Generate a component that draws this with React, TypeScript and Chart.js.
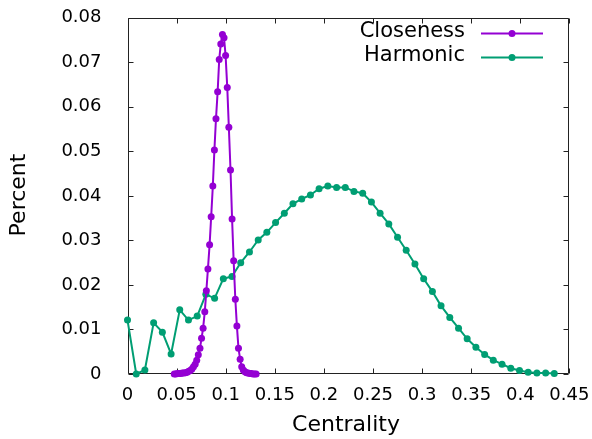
import React, { useEffect, useRef } from "react";
import { Chart, registerables } from "chart.js";

Chart.register(...registerables);

const closenessX = [
  0.0476, 0.0492, 0.0509, 0.0525, 0.0541, 0.0558, 0.0574, 0.059, 0.0607, 0.0623,
  0.064, 0.0656, 0.0672, 0.0689, 0.0705, 0.0721, 0.0738, 0.0754, 0.077, 0.0787,
  0.0803, 0.0819, 0.0836, 0.0852, 0.0869, 0.0885, 0.0901, 0.0918, 0.0934, 0.095,
  0.0967, 0.0983, 0.0999, 0.1016, 0.1032, 0.1049, 0.1065, 0.1081, 0.1098, 0.1114,
  0.113, 0.1147, 0.1163, 0.1179, 0.1196, 0.1212, 0.1228, 0.1245, 0.1261, 0.1278,
  0.1294, 0.131,
];
const closenessY = [
  0, 0, 0.0001, 0.0001, 0.0001, 0.0002, 0.0002, 0.0003, 0.0004, 0.0006,
  0.0008, 0.0011, 0.0016, 0.0022, 0.0031, 0.0043, 0.0058, 0.008, 0.0103, 0.014,
  0.0187, 0.0236, 0.029, 0.0353, 0.0422, 0.0503, 0.0573, 0.0634, 0.0706, 0.0741,
  0.0762, 0.0755, 0.0715, 0.0643, 0.0554, 0.0458, 0.0348, 0.0254, 0.0168, 0.0108,
  0.0058, 0.0033, 0.0016, 0.0009, 0.0005, 0.0003, 0.0002, 0.0001, 0.0001, 0,
  0, 0,
];
const harmonicX = [
  0, 0.0089, 0.0177, 0.0266, 0.0355, 0.0444, 0.0532, 0.0621, 0.071, 0.0798,
  0.0887, 0.0976, 0.1064, 0.1153, 0.1242, 0.1331, 0.1419, 0.1508, 0.1597, 0.1685,
  0.1774, 0.1863, 0.1951, 0.204, 0.2129, 0.2218, 0.2306, 0.2395, 0.2484, 0.2572,
  0.2661, 0.275, 0.2838, 0.2927, 0.3016, 0.3105, 0.3193, 0.3282, 0.3371, 0.3459,
  0.3548, 0.3637, 0.3725, 0.3814, 0.3903, 0.3992, 0.408, 0.4169, 0.4258, 0.4346,
];
const harmonicY = [
  0.0121, 0.0, 0.0009, 0.0115, 0.0094, 0.0045, 0.0144, 0.0121, 0.013, 0.0179,
  0.017, 0.0214, 0.0219, 0.025, 0.0274, 0.0301, 0.0318, 0.034, 0.0361, 0.0382,
  0.0393, 0.0402, 0.0416, 0.0422, 0.0419, 0.0419, 0.041, 0.0406, 0.0386, 0.0361,
  0.0337, 0.0307, 0.0278, 0.0247, 0.0214, 0.0185, 0.0153, 0.0127, 0.0103, 0.0079,
  0.006, 0.0044, 0.0031, 0.0022, 0.0013, 0.0008, 0.0004, 0.0002, 0.0002, 0.0001,
];
const xTickLabels = ["0", "0.05", "0.1", "0.15", "0.2", "0.25", "0.3", "0.35", "0.4", "0.45"];
const yTickLabels = ["0", "0.01", "0.02", "0.03", "0.04", "0.05", "0.06", "0.07", "0.08"];
const seriesNames = ["Closeness", "Harmonic"];
const seriesColors = ["#9400d3", "#009e73"];
const xTitle = "Centrality";
const yTitle = "Percent";

const FONT = "'DejaVu Sans', sans-serif";
const MARKER_R = 3.5;

const framePlugin = {
  id: "gnuplotFrame",
  beforeDatasetsDraw(chart: any) {
    const { ctx, chartArea } = chart;
    const { left, right, top, bottom } = chartArea;
    const xs = chart.scales.x;
    const ys = chart.scales.y;
    ctx.save();
    ctx.strokeStyle = "#222";
    ctx.lineWidth = 1;
    ctx.beginPath();
    const L = Math.round(left) + 0.5;
    const R = Math.round(right) - 0.5;
    const T = Math.round(top) + 0.5;
    const B = Math.round(bottom) - 0.5;
    ctx.rect(L, T, R - L, B - T);
    const tl = 5;
    xs.ticks.forEach((t: any) => {
      const px = Math.round(xs.getPixelForValue(t.value)) + 0.5;
      ctx.moveTo(px, B);
      ctx.lineTo(px, B - tl);
      ctx.moveTo(px, T);
      ctx.lineTo(px, T + tl);
    });
    ys.ticks.forEach((t: any) => {
      const py = Math.round(ys.getPixelForValue(t.value)) + 0.5;
      ctx.moveTo(L, py);
      ctx.lineTo(L + tl, py);
      ctx.moveTo(R, py);
      ctx.lineTo(R - tl, py);
    });
    ctx.stroke();
    ctx.restore();
  },
  afterDraw(chart: any) {
    const { ctx } = chart;
    ctx.save();
    ctx.fillStyle = "#000";
    ctx.font = `22px ${FONT}`;
    ctx.textAlign = "center";
    ctx.textBaseline = "alphabetic";
    ctx.fillText(xTitle, 346, 431);
    ctx.save();
    ctx.translate(25, 195);
    ctx.rotate(-Math.PI / 2);
    ctx.fillText(yTitle, 0, 0);
    ctx.restore();
    ctx.font = `21px ${FONT}`;
    ctx.textAlign = "right";
    const rows = [33.5, 57.5];
    seriesNames.forEach((name, i) => {
      const y = rows[i];
      ctx.fillStyle = "#000";
      ctx.fillText(name, 465, y + 3.5);
      ctx.strokeStyle = seriesColors[i];
      ctx.lineWidth = 2;
      ctx.beginPath();
      ctx.moveTo(481, y);
      ctx.lineTo(543, y);
      ctx.stroke();
      ctx.fillStyle = seriesColors[i];
      ctx.beginPath();
      ctx.arc(512, y, MARKER_R, 0, Math.PI * 2);
      ctx.fill();
    });
    ctx.restore();
  },
};

export default function App() {
  const canvasRef = useRef<HTMLCanvasElement | null>(null);

  useEffect(() => {
    if (!canvasRef.current) return;
    Chart.defaults.font.family = FONT;
    const datasets = [
      {
        label: seriesNames[0],
        data: closenessX.map((x, i) => ({ x, y: closenessY[i] })),
        borderColor: seriesColors[0],
        backgroundColor: seriesColors[0],
      },
      {
        label: seriesNames[1],
        data: harmonicX.map((x, i) => ({ x, y: harmonicY[i] })),
        borderColor: seriesColors[1],
        backgroundColor: seriesColors[1],
      },
    ].map((d) => ({
      ...d,
      showLine: true,
      borderWidth: 2,
      pointRadius: MARKER_R,
      pointBorderWidth: 0,
      pointHoverRadius: MARKER_R,
      tension: 0,
      clip: false as any,
    }));

    const chart = new Chart(canvasRef.current, {
      type: "scatter",
      data: { datasets },
      options: {
        animation: false,
        responsive: false,
        events: [],
        layout: { padding: { left: 0, right: 22.6, top: 17.7, bottom: 0 } },
        plugins: {
          legend: { display: false },
          tooltip: { enabled: false },
          title: { display: false },
        },
        scales: {
          x: {
            type: "linear",
            min: 0,
            max: 0.45,
            grid: { display: false },
            border: { display: false },
            afterFit: (s: any) => {
              s.height = 65;
              s.paddingLeft = 0;
              s.paddingRight = 0;
              s.paddingTop = 0;
              s.paddingBottom = 0;
            },
            afterBuildTicks: (s: any) => {
              s.ticks = xTickLabels.map((l) => ({ value: parseFloat(l) }));
            },
            ticks: {
              autoSkip: false,
              maxRotation: 0,
              padding: 3,
              color: "#000",
              font: { size: 18, family: FONT },
              callback: (_v: any, i: number) => xTickLabels[i],
            },
          },
          y: {
            type: "linear",
            min: 0,
            max: 0.08,
            grid: { display: false },
            border: { display: false },
            afterFit: (s: any) => {
              s.width = 127.5;
              s.paddingLeft = 0;
              s.paddingRight = 0;
              s.paddingTop = 0;
              s.paddingBottom = 0;
            },
            afterBuildTicks: (s: any) => {
              s.ticks = yTickLabels.map((l) => ({ value: parseFloat(l) }));
            },
            ticks: {
              autoSkip: false,
              padding: 18,
              color: "#000",
              font: { size: 18, family: FONT },
              callback: (_v: any, i: number) => yTickLabels[i],
            },
          },
        },
      },
      plugins: [framePlugin],
    });
    return () => chart.destroy();
  }, []);

  return (
    <div style={{ position: "fixed", left: 0, top: 0, width: 592, height: 439, background: "#fff" }}>
      <canvas ref={canvasRef} width={592} height={439} style={{ display: "block" }} />
    </div>
  );
}
